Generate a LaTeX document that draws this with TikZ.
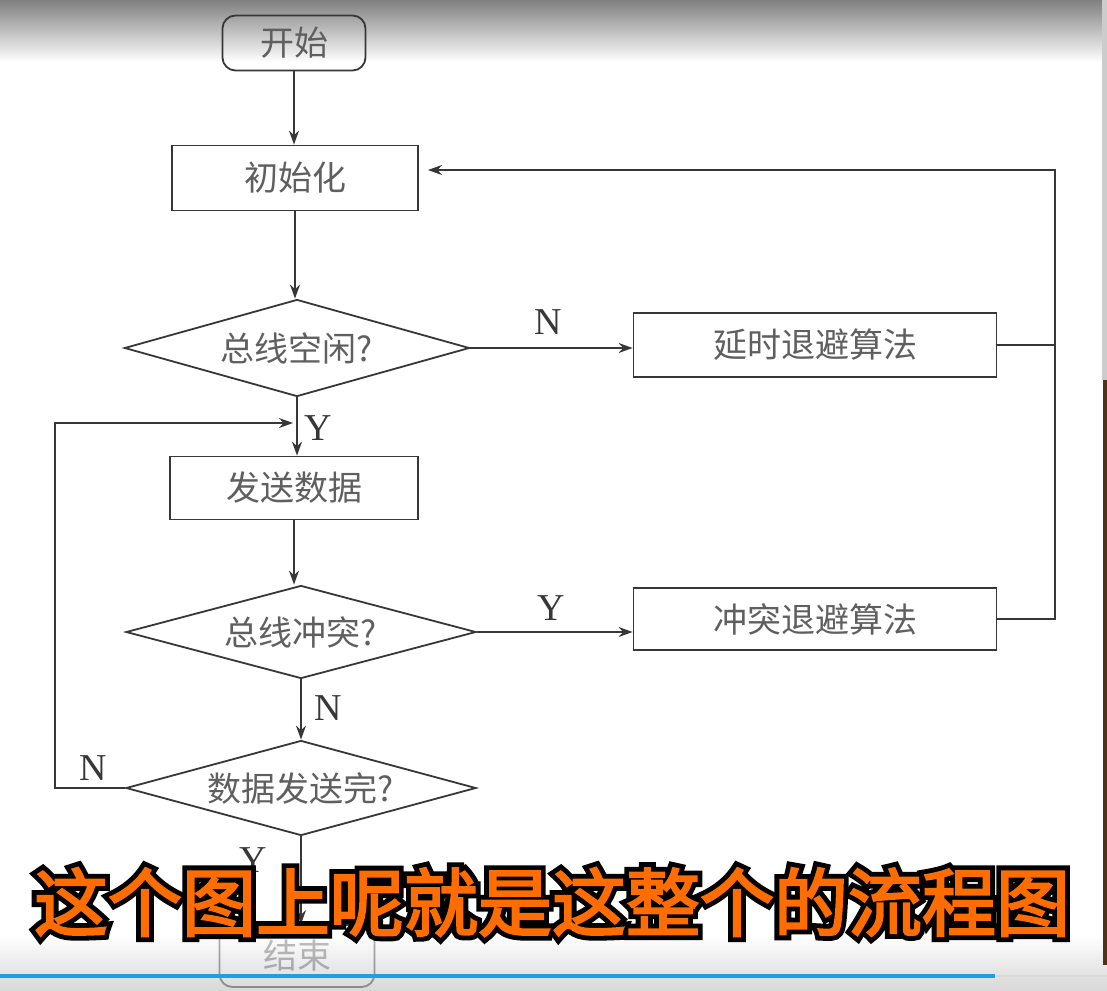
\documentclass[tikz,border=0pt]{standalone}
\usepackage{fontspec}
\setmainfont{Liberation Serif}
\newfontfamily\cjk{Noto Sans CJK SC}
\newfontfamily\subfont{Noto Sans CJK SC}[FakeBold=3]
\newfontfamily\subline{Noto Sans CJK SC}[FakeBold=16]
\usetikzlibrary{shapes.geometric,arrows.meta,calc}
\definecolor{linec}{RGB}{55,55,55}
\definecolor{txtc}{RGB}{95,95,95}
\definecolor{suborange}{RGB}{255,108,0}
\definecolor{barblue}{RGB}{30,160,222}
\tikzset{
  box/.style={draw=linec,line width=1.8pt,rectangle,inner sep=0pt,font=\cjk\fontsize{34}{40}\selectfont,text=txtc},
  term/.style={box,rounded corners=13pt},
  decide/.style={draw=linec,line width=1.8pt,diamond,aspect=3.6,inner sep=0pt,font=\cjk\fontsize{34}{40}\selectfont,text=txtc},
  arr/.style={draw=linec,line width=1.6pt,-{Stealth[length=14pt,width=10pt]}},
  conn/.style={draw=linec,line width=1.6pt},
  lab/.style={font=\fontsize{38}{40}\selectfont,text=linec,inner sep=0pt},
  subtext/.style={inner sep=0pt},
}
\begin{document}
\begin{tikzpicture}[x=1pt,y=-1pt]
\useasboundingbox (0,0) rectangle (1107,990);
\fill[white] (0,0) rectangle (1107,990);
\shade[top color=black!50,bottom color=white] (0,0) rectangle (1107,62);
% nodes
\node[term,minimum width=143pt,minimum height=55pt] (start) at (294,43) {开始};
\node[box,minimum width=246pt,minimum height=65pt] (init) at (295,178) {初始化};
\node[decide,minimum width=345pt,minimum height=97pt] (idle) at (297,348) {总线空闲?};
\node[box,minimum width=363pt,minimum height=64pt] (delay) at (815,345) {延时退避算法};
\node[box,minimum width=248pt,minimum height=63pt] (send) at (294,488) {发送数据};
\node[decide,minimum width=350pt,minimum height=93pt] (coll) at (301,632) {总线冲突?};
\node[box,minimum width=363pt,minimum height=62pt] (cbox) at (815,619) {冲突退避算法};
\node[decide,minimum width=350pt,minimum height=95pt] (done) at (301,788) {数据发送完?};
\node[term,minimum width=155pt,minimum height=62pt] (end) at (297,956) {结束};
% coordinates
\coordinate (rmid) at (1055,345);
\coordinate (rtop) at (1055,170);
\coordinate (initin) at (428,170);
\coordinate (lp) at (55,423);
\coordinate (lpend) at (293,423);
% connectors
\draw[arr] (start.south) -- (start.south |- init.north);
\draw[arr] (init.south) -- (init.south |- idle.north);
\draw[arr] (idle.east) -- node[lab,above=13pt,pos=0.48]{N} (idle.east -| delay.west);
\draw[arr] (idle.south) -- (idle.south |- send.north);
\node[lab] (ly1) at (318,428) {Y};
\draw[arr] (send.south) -- (send.south |- coll.north);
\draw[arr] (coll.east) -- node[lab,above=11pt,pos=0.48]{Y} (coll.east -| cbox.west);
\draw[arr] (coll.south) -- (coll.south |- done.north);
\node[lab] (ln1) at (328,708) {N};
\draw[arr] (done.south) -- (done.south |- end.north);
\node[lab] (ly2) at (253,860) {Y};
\draw[arr] (done.west) -| (lp) -- (lpend);
\node[lab] (ln2) at (93,768) {N};
\draw[conn] (delay.east) -- (rmid);
\draw[arr] (cbox.east) -| (rtop) -- (initin);
% bottom fade
\shade[top color=white,bottom color=black!25,opacity=0.6] (0,935) rectangle (1107,990);
\fill[barblue] (0,973.5) rectangle (995,977.5);
\fill[black!15] (995,974.5) rectangle (1107,976.5);
% right video edge
\fill[black!20] (1102,0) rectangle (1107,380);
\fill[black!60!brown] (1103,380) rectangle (1107,965);
% subtitle
\node[subtext,font=\subline\fontsize{74}{80}\selectfont,text=black] (subbg) at (552,902) {这个图上呢就是这整个的流程图};
\node[subtext,font=\subfont\fontsize{74}{80}\selectfont,text=suborange] (sub) at (subbg.center) {这个图上呢就是这整个的流程图};
\end{tikzpicture}
\end{document}
